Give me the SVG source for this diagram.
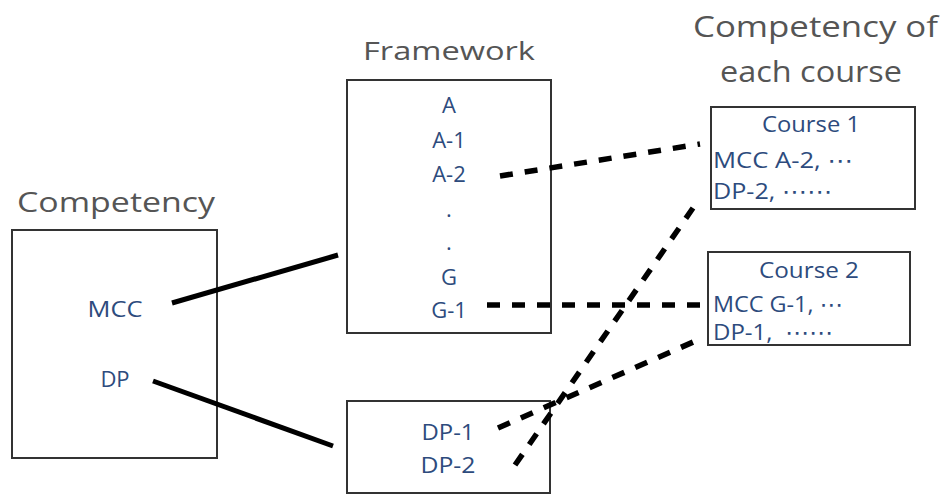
<svg xmlns="http://www.w3.org/2000/svg" width="940" height="496" viewBox="0 0 940 496">
<style>
.box{fill:#fff;stroke:#333;stroke-width:2}
.title{font-family:"Open Sans","Noto Sans",sans-serif;fill:#555}
.lbl{font-family:"Open Sans","Noto Sans","DejaVu Sans",sans-serif;font-size:22px;fill:#2d4b7d}
.mid{text-anchor:middle}
.solid{stroke:#000;stroke-width:5;fill:none}
.dash{stroke:#000;stroke-width:5.5;fill:none;stroke-dasharray:13 12}
</style>
<rect width="940" height="496" fill="#fff"/>
<g id="competency">
<text class="title" x="17" y="212" font-size="28" textLength="198" lengthAdjust="spacingAndGlyphs">Competency</text>
<rect class="box" x="12" y="230" width="205" height="228"/>
<text class="lbl mid" x="115" y="317" textLength="55" lengthAdjust="spacingAndGlyphs">MCC</text>
<text class="lbl mid" x="115" y="387">DP</text>
</g>
<g id="framework">
<text class="title mid" x="449" y="60" font-size="25" textLength="172" lengthAdjust="spacingAndGlyphs">Framework</text>
<rect class="box" x="347" y="80" width="204" height="253"/>
<text class="lbl mid" x="449" y="113">A</text>
<text class="lbl mid" x="449" y="148">A-1</text>
<text class="lbl mid" x="449" y="182">A-2</text>
<text class="lbl mid" x="449" y="217">.</text>
<text class="lbl mid" x="449" y="250">.</text>
<text class="lbl mid" x="449" y="285">G</text>
<text class="lbl mid" x="449" y="318">G-1</text>
</g>
<g id="dpbox">
<rect class="box" x="347" y="401" width="203" height="92"/>
<text class="lbl mid" x="448" y="440" textLength="53" lengthAdjust="spacingAndGlyphs">DP-1</text>
<text class="lbl mid" x="448" y="473" textLength="55" lengthAdjust="spacingAndGlyphs">DP-2</text>
</g>
<g id="coursetitle">
<text class="title" x="693" y="37" font-size="30" textLength="245" lengthAdjust="spacingAndGlyphs">Competency of</text>
<text class="title mid" x="811" y="82" font-size="30" textLength="182" lengthAdjust="spacingAndGlyphs">each course</text>
</g>
<g id="course1">
<rect class="box" x="711" y="107" width="204" height="102"/>
<text class="lbl mid" x="811" y="132" textLength="98" lengthAdjust="spacingAndGlyphs">Course 1</text>
<text class="lbl" x="713" y="168" textLength="140" lengthAdjust="spacingAndGlyphs">MCC A-2, ⋯</text>
<text class="lbl" x="713" y="199" textLength="119" lengthAdjust="spacingAndGlyphs">DP-2, ⋯⋯</text>
</g>
<g id="course2">
<rect class="box" x="708" y="252" width="202" height="93"/>
<text class="lbl mid" x="809" y="278" textLength="100" lengthAdjust="spacingAndGlyphs">Course 2</text>
<text class="lbl" x="713" y="312" textLength="130" lengthAdjust="spacingAndGlyphs">MCC G-1, ⋯</text>
<text class="lbl" x="713" y="340" textLength="120" lengthAdjust="spacingAndGlyphs" xml:space="preserve">DP-1,  ⋯⋯</text>
</g>
<g id="connectors">
<path class="solid" d="M172,303 L338,255"/>
<path class="solid" d="M153,381 L333,446"/>
<path class="dash" d="M500,176 L700,144"/>
<path class="dash" d="M487,305 L705,305"/>
<path class="dash" d="M498,428 L700,339"/>
<path class="dash" d="M515,465 L693,208"/>
</g>
</svg>
